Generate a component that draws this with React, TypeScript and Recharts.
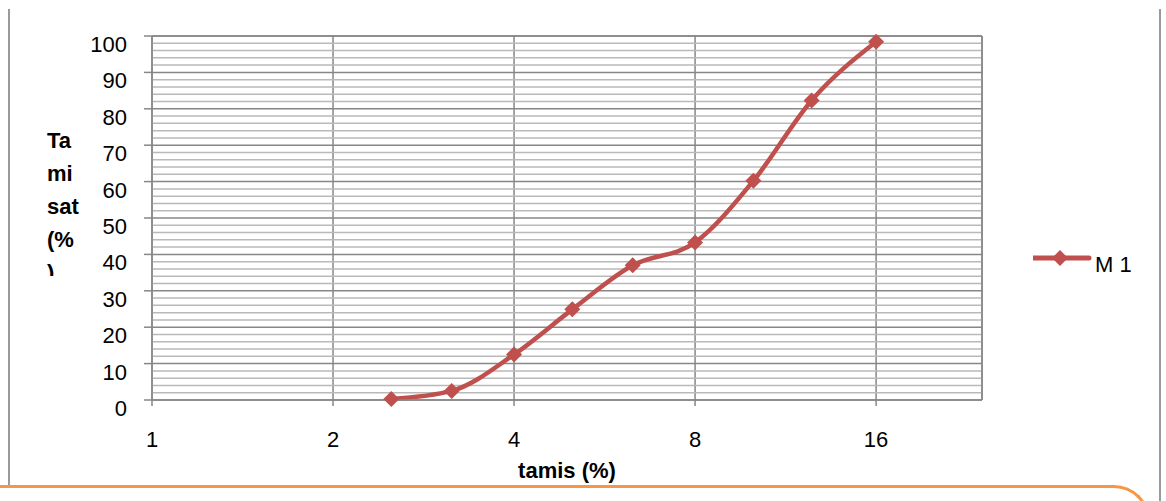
import * as React from 'react';
import {
	CartesianGrid,
	Legend,
	Line,
	LineChart,
	ReferenceLine,
	XAxis,
	YAxis,
} from 'recharts';

// sieve opening vs. cumulative passing
const sieveSizes = [2.5, 3.15, 4, 5, 6.3, 8, 10, 12.5, 16];
const passingM1 = [0.3, 2.5, 12.5, 24.9, 37, 43.3, 60.2, 82.3, 98.4];
const xTicks = [1, 2, 4, 8, 16];
const xDomain = [1, 24];
const yTicks = [0, 10, 20, 30, 40, 50, 60, 70, 80, 90, 100];
const yMinorTicks = [
	2, 4, 6, 8, 12, 14, 16, 18, 22, 24, 26, 28, 32, 34, 36, 38, 42, 44, 46, 48,
	52, 54, 56, 58, 62, 64, 66, 68, 72, 74, 76, 78, 82, 84, 86, 88, 92, 94, 96, 98,
];
const yTitleLines = ['Ta', 'mi', 'sat', '(%', ')'];
const seriesName = 'M 1';

const data = sieveSizes.map((x, i) => ({x, passing: passingM1[i]}));

const font = '"Liberation Sans", Arial, sans-serif';
const lineColor = '#c0504d';
const majorGrid = '#878787';
const minorGrid = '#b9b9b9';

function Diamond({cx, cy}: any) {
	if (cx == null || cy == null) return null;
	return (
		<polygon
			points={`${cx - 8},${cy} ${cx},${cy - 8} ${cx + 8},${cy} ${cx},${cy + 8}`}
			fill={lineColor}
		/>
	);
}

function YTick({x, y, payload}: any) {
	return (
		<text x={x} y={y + 16} textAnchor="end" fontSize={22} fontFamily={font} fill="#000">
			{payload.value}
		</text>
	);
}

function XTick({x, y, payload}: any) {
	return (
		<text x={x} y={y + 41} textAnchor="middle" fontSize={22} fontFamily={font} fill="#000">
			{payload.value}
		</text>
	);
}

function XTitle({viewBox}: any) {
	const {x, y, width} = viewBox;
	return (
		<text x={x + width / 2} y={y + 78} textAnchor="middle" fontSize={22} fontWeight="bold" fontFamily={font} fill="#000">
			tamis (%)
		</text>
	);
}

function YTitle({viewBox}: any) {
	const {y} = viewBox;
	return (
		<g>
			<defs>
				<clipPath id="ytitle-clip">
					<rect x={0} y={0} width={140} height={276} />
				</clipPath>
			</defs>
			<g clipPath="url(#ytitle-clip)">
				{yTitleLines.map((line, i) => (
					<text key={i} x={47} y={y + 112 + i * 33} fontSize={22} fontWeight="bold" fontFamily={font} fill="#000">
						{line}
					</text>
				))}
			</g>
		</g>
	);
}

function LegendBox() {
	return (
		<div style={{position: 'relative', width: 130, height: 30}}>
			<svg width={60} height={26} style={{position: 'absolute', left: 0, top: 0}}>
				<line x1={0} y1={13} x2={56} y2={13} stroke={lineColor} strokeWidth={5} strokeLinecap="round" />
				<polygon points="19,13 27,5 35,13 27,21" fill={lineColor} />
			</svg>
			<span style={{position: 'absolute', left: 62, top: 9, fontSize: 22, lineHeight: '22px', fontFamily: font, color: '#000', whiteSpace: 'nowrap'}}>
				{seriesName}
			</span>
		</div>
	);
}

export default function App() {
	return (
		<div style={{position: 'absolute', left: 0, top: 0, width: 1166, height: 501, overflow: 'hidden', background: '#fff'}}>
			<div style={{position: 'absolute', left: 8, top: 9, width: 2, height: 477, background: '#9a9a9a'}} />
			<div style={{position: 'absolute', left: 1159, top: 9, width: 2, height: 492, background: '#9a9a9a'}} />
			<div
				style={{
					position: 'absolute',
					left: -20,
					top: 485,
					width: 1170,
					height: 80,
					borderTop: '3px solid #f79646',
					borderRight: '3px solid #f79646',
					borderTopRightRadius: 36,
					boxSizing: 'border-box',
				}}
			/>
			<div style={{position: 'absolute', left: 0, top: 0}}>
				<LineChart width={1166} height={501} data={data} margin={{top: 36, right: 184, bottom: 0, left: 0}}>
					{yMinorTicks.map((v) => (
						<ReferenceLine key={`m${v}`} y={v} stroke={minorGrid} strokeWidth={1.5} />
					))}
					<CartesianGrid stroke={majorGrid} strokeWidth={1.5} horizontal vertical />
					<ReferenceLine x={xDomain[1]} stroke={majorGrid} strokeWidth={1.5} />
					<ReferenceLine y={100} stroke={majorGrid} strokeWidth={1.5} />
					<XAxis
						dataKey="x"
						type="number"
						scale="log"
						domain={xDomain}
						ticks={xTicks}
						allowDataOverflow
						height={101}
						tickSize={6}
						tickMargin={0}
						tick={<XTick />}
						stroke={majorGrid}
						strokeWidth={1.5}
						label={{content: (props: any) => <XTitle {...props} />}}
					/>
					<YAxis
						type="number"
						domain={[0, 100]}
						ticks={yTicks}
						width={152}
						tickSize={8}
						tickMargin={17}
						tick={<YTick />}
						stroke={majorGrid}
						strokeWidth={1.5}
						label={{content: (props: any) => <YTitle {...props} />}}
					/>
					<Legend
						layout="vertical"
						align="center"
						verticalAlign="middle"
						wrapperStyle={{position: 'absolute', left: 1033, top: 245, width: 130}}
						content={() => <LegendBox />}
					/>
					<Line
						type="monotone"
						dataKey="passing"
						name={seriesName}
						stroke={lineColor}
						strokeWidth={4.5}
						dot={<Diamond />}
						activeDot={false}
						isAnimationActive={false}
					/>
				</LineChart>
			</div>
		</div>
	);
}
